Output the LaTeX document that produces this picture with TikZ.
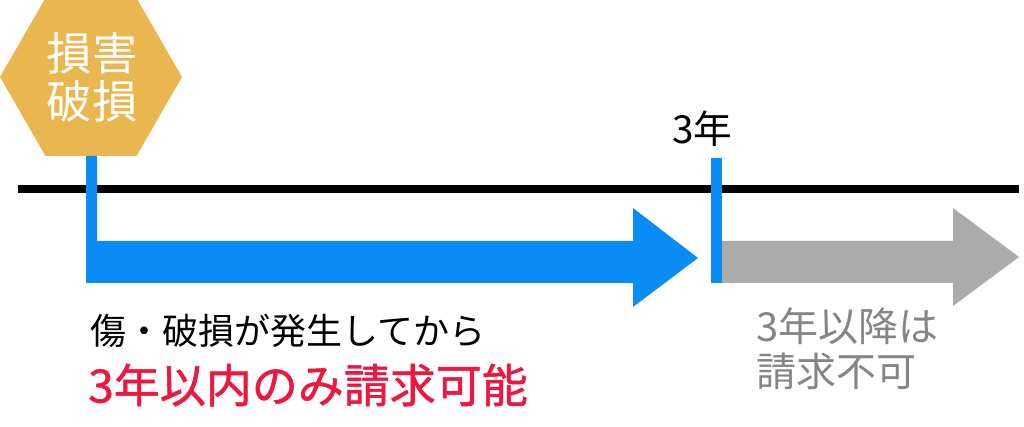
\documentclass[tikz,border=0pt]{standalone}
\usepackage{fontspec}
\newfontfamily\jp{Noto Sans CJK JP}
\newfontfamily\jpmed[FakeBold=1.2]{Noto Sans CJK JP}
\definecolor{hexgold}{HTML}{EAB64F}
\definecolor{arrblue}{HTML}{0A8CF7}
\definecolor{arrgray}{HTML}{ABABAB}
\definecolor{txtred}{HTML}{EC1840}
\definecolor{txtgray}{HTML}{858585}
\tikzset{
  lbl/.style={inner sep=0pt, font=\jp, align=left},
}
\begin{document}
\begin{tikzpicture}[x=0.75pt,y=-0.75pt]
\useasboundingbox (0,0) rectangle (1024,427);
% timeline
\coordinate (tl0) at (18,189);
\coordinate (tl1) at (1019,189);
\draw[line width=6.5pt] (tl0) -- (tl1);
% hexagon
\fill[hexgold] (0,77) -- (45.5,-2) -- (136.5,-2) -- (182,77) -- (136.5,156) -- (45.5,156) -- cycle;
\node[lbl, text=white, font=\jp\fontsize{34}{36}\selectfont, align=center] (hex) at (92,77) {損害\\破損};
% blue L arrow
\fill[arrblue] (86,156) -- (97,156) -- (97,241) -- (633,241) -- (633,208) -- (698,258) -- (633,307) -- (633,283) -- (86,283) -- cycle;
% gray arrow
\fill[arrgray] (722,241) -- (953,241) -- (953,208) -- (1019,257) -- (953,306) -- (953,283) -- (722,283) -- cycle;
% blue 3-year mark
\fill[arrblue] (711,158) rectangle (722,283);
% labels
\node[lbl, font=\jp\fontsize{29}{30}\selectfont, anchor=west] (yr) at (672,129) {3年};
\node[lbl, font=\jp\fontsize{27}{30}\selectfont, anchor=west] (t1) at (90,331) {傷・破損が発生してから};
\node[lbl, text=txtred, font=\jpmed\fontsize{34.5}{36}\selectfont, anchor=west] (t2) at (88,385) {3年以内のみ請求可能};
\node[lbl, text=txtgray, font=\jp\fontsize{30}{34}\selectfont, anchor=north west] (t3) at (756,307) {3年以降は\\請求不可};
\end{tikzpicture}
\end{document}
